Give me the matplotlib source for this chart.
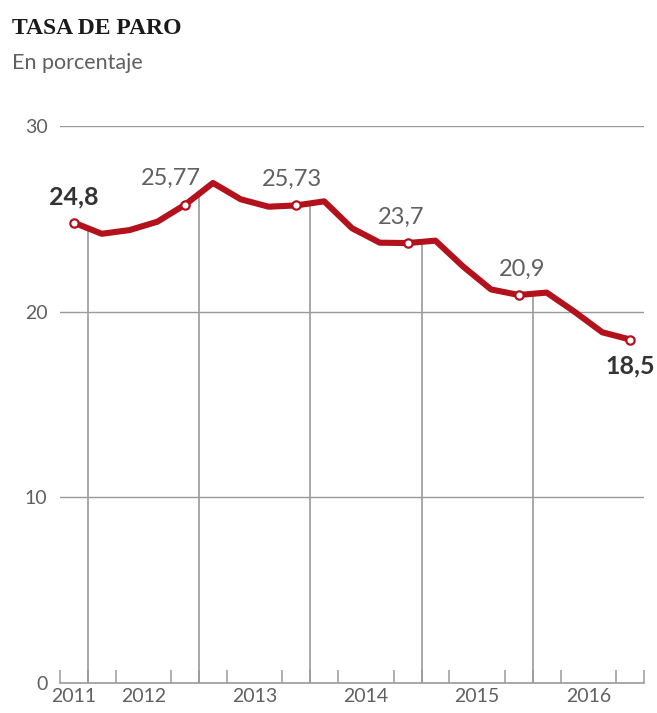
import numpy as np
import matplotlib
matplotlib.use('Agg')
import matplotlib.pyplot as plt

# Tasa de paro trimestral, del 4T 2011 al 4T 2016
paro = [24.8, 24.2, 24.4, 24.85, 25.77, 26.94, 26.06, 25.66, 25.73, 25.95,
        24.5, 23.72, 23.7, 23.83, 22.43, 21.2, 20.9, 21.03, 20.0, 18.89, 18.5]
years = ['2011', '2012', '2013', '2014', '2015', '2016']
year_pos = [0, 2.5, 6.5, 10.5, 14.5, 18.5]
label_idx = [0, 4, 8, 12, 16, 20]
label_txt = ['24,8', '25,77', '25,73', '23,7', '20,9', '18,5']
yticks = [0, 10, 20, 30]

RED = '#b3121d'
GRID = '#9a9a9a'
TXT = '#606060'
SANS = ['Lato', 'DejaVu Sans']

x = np.arange(len(paro))

fig = plt.figure(figsize=(6.57, 7.13), dpi=100)
W, H = 657, 713
ax = fig.add_axes([60 / W, (H - 682.7) / H, 584 / W, (682.7 - 126.2) / H])
ax.set_xlim(-0.5, len(paro) - 0.5)
ax.set_ylim(0, 30)

for s in ['top', 'right', 'left']:
    ax.spines[s].set_visible(False)
ax.spines['bottom'].set_color(GRID)
ax.spines['bottom'].set_linewidth(1.2)

for v in yticks[1:]:
    ax.axhline(v, color=GRID, lw=1.0, zorder=1)

# separadores de año: suben hasta la línea
bounds = [0.5, 4.5, 8.5, 12.5, 16.5]
for b in bounds:
    ax.vlines(b, 0, np.interp(b, x, paro), color=GRID, lw=1.2, zorder=1)

ax.set_yticks(yticks)
ax.set_yticklabels([str(v) for v in yticks], family=SANS, fontsize=14, color=TXT)
ax.tick_params(axis='y', length=0, pad=9)

ax.set_xticks(year_pos)
ax.set_xticklabels(years, family=SANS, fontsize=14, color=TXT)
ax.tick_params(axis='x', which='major', length=0, pad=4)
ax.set_xticks(np.arange(-0.5, len(paro), 1), minor=True)
ax.tick_params(axis='x', which='minor', direction='in', length=9.5, width=1.1, color=GRID)

ax.plot(x, paro, color=RED, lw=4.4, solid_joinstyle='round', solid_capstyle='round', zorder=3)
ax.plot(x[label_idx], np.array(paro)[label_idx], 'o', ms=6, mfc='white', mec=RED, mew=1.6, zorder=4)

offsets = {0: 0, 4: -0.5, 8: -0.15, 12: -0.25, 16: 0.1, 20: 0}
for i, t in zip(label_idx, label_txt):
    bold = i in (0, 20)
    dy = -1.4 if i == 20 else 1.4
    ax.text(i + offsets[i], paro[i] + dy, t, ha='center', va='center',
            family=SANS, fontsize=18 if bold else 17,
            fontweight='bold' if bold else 'normal',
            color='#333333' if bold else TXT, zorder=5)

fig.text(12 / W, 1 - 28 / H, 'TASA DE PARO', family='Liberation Serif', fontweight='bold',
         fontsize=17, color='#1a1a1a', va='center', ha='left')
fig.text(12 / W, 1 - 63 / H, 'En porcentaje', family=SANS, fontsize=15.5, color=TXT,
         va='center', ha='left')

fig.savefig('out.png', dpi=100)
